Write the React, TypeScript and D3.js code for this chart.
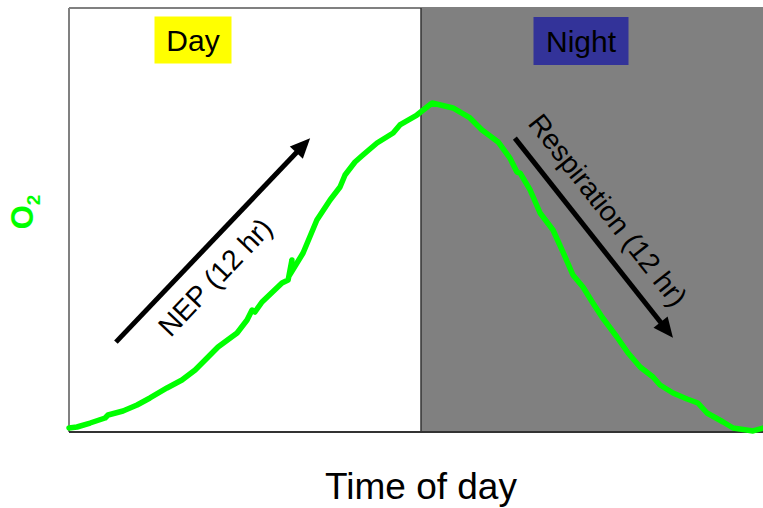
import React from "react";
import * as d3 from "d3";

// Time of day (hours) and dissolved O2 (arbitrary units)
const hours = [0.0, 0.27, 0.72, 1.23, 1.33, 1.84, 2.32, 2.76, 3.34, 3.85, 4.3, 4.64, 5.08, 5.73, 6.07, 6.24, 6.34, 6.58, 7.26, 7.47, 7.6, 7.5, 7.98, 8.45, 8.9, 9.24, 9.41, 9.75, 10.02, 10.5, 11.05, 11.28, 11.86, 12.38, 13.09, 13.67, 14.08, 14.63, 15.03, 15.27, 15.38, 15.72, 16.06, 16.5, 16.81, 17.18, 17.52, 17.86, 18.17, 18.68, 19.06, 19.47, 19.91, 20.15, 20.59, 21.07, 21.44, 21.75, 22.3, 22.64, 23.32, 23.66];
const o2 = [0.94, 1.18, 2.12, 3.3, 4.01, 4.95, 6.37, 8.02, 10.38, 12.26, 14.62, 16.98, 20.05, 23.35, 26.42, 28.77, 28.3, 30.66, 35.14, 35.85, 40.57, 36.79, 42.22, 50.0, 54.72, 57.78, 60.61, 63.68, 65.33, 68.16, 70.52, 72.41, 74.76, 77.59, 76.42, 74.06, 71.23, 68.4, 64.62, 61.32, 61.08, 57.08, 51.65, 47.64, 42.92, 37.03, 34.2, 30.42, 27.12, 22.41, 18.63, 15.33, 12.97, 11.08, 9.2, 7.78, 6.84, 4.48, 2.36, 0.94, 0.24, 0.94];

const periods = ["Day", "Night"];
const periodStart = [0, 12];
const periodEnd = [12, 24];

const arrowLabels = ["NEP (12 hr)", "Respiration (12 hr)"];
const arrowFrom = [[1.6, 21.2], [15.2, 69.3]];
const arrowTo = [[8.22, 69.3], [20.59, 22.2]];

const yLabel = "O";
const ySub = "2";
const xLabel = "Time of day";

export default function App() {
  const W = 763, H = 508;
  const left = 69, top = 8, bottom = 432;
  const x = d3.scaleLinear().domain([0, 24]).range([left, left + (421 - left) * 2]);
  const y = d3.scaleLinear().domain([0, 100]).range([bottom, top]);
  const pts: [number, number][] = hours.map((h, i) => [h, o2[i]]);
  const line = d3.line<[number, number]>().x(d => x(d[0])).y(d => y(d[1]));

  const arrows = arrowFrom.map((f, i) => {
    const x1 = x(f[0]), y1 = y(f[1]);
    const x2 = x(arrowTo[i][0]), y2 = y(arrowTo[i][1]);
    const dx = x2 - x1, dy = y2 - y1;
    const len = Math.hypot(dx, dy);
    const ux = dx / len, uy = dy / len;
    const hl = 20, hw = 9;
    const bx = x2 - ux * hl, by = y2 - uy * hl;
    const px = -uy, py = ux;
    const head = `M${x2},${y2}L${bx + px * hw},${by + py * hw}L${bx - px * hw},${by - py * hw}Z`;
    const ang = (Math.atan2(dy, dx) * 180) / Math.PI;
    return { x1, y1, bx: bx + ux * 2, by: by + uy * 2, head, ang };
  });

  const labelBoxes = [
    { fill: "#ffff00", w: 77, h: 47, cy: 40 },
    { fill: "#333399", w: 95, h: 48, cy: 41 },
  ];
  const labelCx = [193, 581];

  return (
    <svg width={W} height={H} style={{ position: "absolute", left: 0, top: 0, background: "#fff" }}
      fontFamily="Liberation Sans, Arial, sans-serif">
      {/* night shading */}
      <rect x={x(periodStart[1])} y={top} width={x(periodEnd[1]) - x(periodStart[1])} height={bottom - top} fill="#808080" />
      {/* frame */}
      <line x1={left} x2={W} y1={top} y2={top} stroke="#808080" strokeWidth={2} />
      <line x1={left} x2={left} y1={top} y2={bottom} stroke="#808080" strokeWidth={2} />
      <line x1={x(12)} x2={x(12)} y1={top} y2={bottom} stroke="#333" strokeWidth={1.5} />
      <line x1={left} x2={W} y1={bottom} y2={bottom} stroke="#333" strokeWidth={2} />

      {/* period labels */}
      {periods.map((p, i) => (
        <g key={p}>
          <rect x={labelCx[i] - labelBoxes[i].w / 2} y={labelBoxes[i].cy - labelBoxes[i].h / 2}
            width={labelBoxes[i].w} height={labelBoxes[i].h} fill={labelBoxes[i].fill} />
          <text x={labelCx[i]} y={labelBoxes[i].cy + 11} textAnchor="middle" fontSize={30} fill="#000">{p}</text>
        </g>
      ))}

      {/* O2 curve */}
      <path d={line(pts) || ""} fill="none" stroke="#00ff00" strokeWidth={5.5} strokeLinejoin="round" strokeLinecap="round" />

      {/* arrows */}
      {arrows.map((a, i) => (
        <g key={i}>
          <line x1={a.x1} y1={a.y1} x2={a.bx} y2={a.by} stroke="#000" strokeWidth={5} />
          <path d={a.head} fill="#000" />
        </g>
      ))}
      <text transform={`translate(215,277) rotate(${arrows[0].ang})`} textAnchor="middle" dominantBaseline="central" fontSize={28.5} fill="#000">{arrowLabels[0]}</text>
      <text transform={`translate(608,210) rotate(${arrows[1].ang})`} textAnchor="middle" dominantBaseline="central" fontSize={28.5} fill="#000">{arrowLabels[1]}</text>

      {/* axis labels */}
      <text transform="translate(33,212) rotate(-90)" textAnchor="middle" fontSize={31} fontWeight="bold" fill="#00ff00">
        {yLabel}<tspan fontSize={19} dy={7}>{ySub}</tspan>
      </text>
      <text x={421} y={499} textAnchor="middle" fontSize={37} fill="#000">{xLabel}</text>
    </svg>
  );
}
